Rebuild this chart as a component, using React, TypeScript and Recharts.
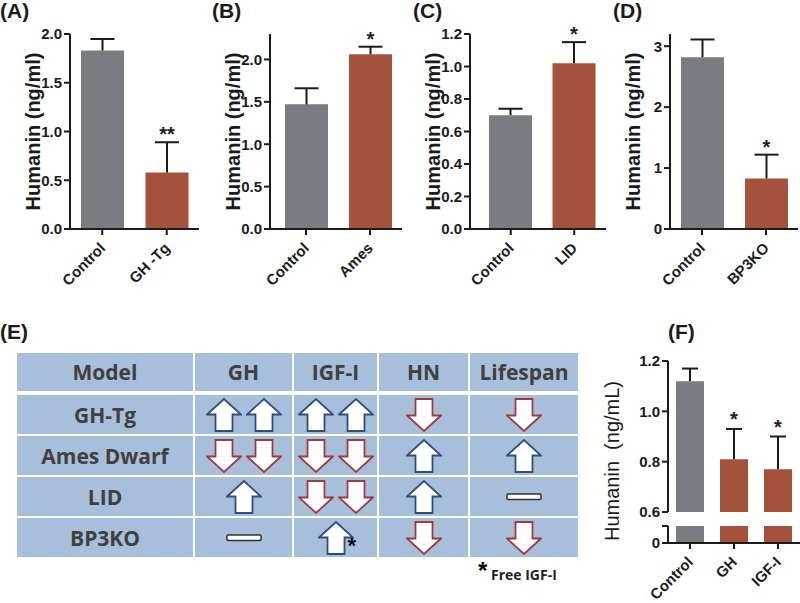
import React from 'react';
import { BarChart, Bar, XAxis, YAxis, Cell, LabelList } from 'recharts';

const GRAY = '#797c80';
const RUST = '#a5523c';
const INK = '#1b1b1b';
const SANS = '"Liberation Sans", Arial, sans-serif';
const TABLE_BG = '#a8bfdb';
const TABLE_TEXT = '#404040';
const BLUE = '#2d4e7e';
const RED = '#a03a3f';

// (A) GH transgenic
const groupsA = ['Control', 'GH -Tg'];
const humaninA = [1.83, 0.58];
const semA = [0.12, 0.31];
const starsA = ['', '**'];
const ticksA = [0, 0.5, 1, 1.5, 2];

// (B) Ames dwarf
const groupsB = ['Control', 'Ames'];
const humaninB = [1.47, 2.06];
const semB = [0.19, 0.09];
const starsB = ['', '*'];
const ticksB = [0, 0.5, 1, 1.5, 2];

// (C) LID
const groupsC = ['Control', 'LID'];
const humaninC = [0.7, 1.02];
const semC = [0.04, 0.13];
const starsC = ['', '*'];
const ticksC = [0, 0.2, 0.4, 0.6, 0.8, 1, 1.2];

// (D) BP3KO
const groupsD = ['Control', 'BP3KO'];
const humaninD = [2.82, 0.83];
const semD = [0.29, 0.39];
const starsD = ['', '*'];
const ticksD = [0, 1, 2, 3];

// (F) treatment
const groupsF = ['Control', 'GH', 'IGF-I'];
const humaninF = [1.12, 0.81, 0.77];
const semF = [0.05, 0.12, 0.13];
const starsF = ['', '*', '*'];
const ticksFTop = [0.6, 0.8, 1, 1.2];
const ticksFLow = [0, 0.05];

// (E) table
const tableHead = ['Model', 'GH', 'IGF-I', 'HN', 'Lifespan'];
const tableModels = ['GH-Tg', 'Ames Dwarf', 'LID', 'BP3KO'];
const tableGH = ['uu', 'dd', 'u', '-'];
const tableIGF = ['uu', 'dd', 'dd', 'u*'];
const tableHN = ['d', 'u', 'u', 'd'];
const tableLife = ['d', 'u', '-', 'd'];

const rowsOf = (names: string[], mean: number[], sem: number[], stars: string[]) =>
  names.map((name, i) => ({ name, mean: mean[i], sem: sem[i], star: stars[i], fill: i === 0 ? GRAY : RUST }));

const errShape = (cap: number) => (p: any) => {
  const cx = p.x + p.width / 2;
  return (
    <g>
      <line x1={cx} x2={cx} y1={p.y} y2={p.y + p.height} stroke={INK} strokeWidth={2} />
      <line x1={cx - cap} x2={cx + cap} y1={p.y} y2={p.y} stroke={INK} strokeWidth={2} />
    </g>
  );
};

const SlantTick = (p: any) => {
  const x = p.x + 4;
  const y = p.y + 12;
  return (
    <text x={x} y={y} transform={`rotate(-45 ${x} ${y})`} textAnchor="end" fontFamily={SANS} fontSize={15} fontWeight="bold" fill={INK}>
      {p.payload.value}
    </text>
  );
};

const axisLine = { stroke: INK, strokeWidth: 2 };
const tickFont = { fill: INK, fontSize: 15, fontWeight: 'bold', fontFamily: SANS };
const starStyle = { fontSize: 20, fontWeight: 'bold', fontFamily: SANS };

type PanelProps = {
  left: number;
  rows: any[];
  domain: [number, number];
  ticks: number[];
  digits: number;
  padLeft: number;
  plotWidth: number;
};

function Panel({ left, rows, domain, ticks, digits, padLeft, plotWidth }: PanelProps) {
  return (
    <div style={{ position: 'absolute', left, top: 0 }}>
      <BarChart width={70 + plotWidth} height={305} data={rows} margin={{ top: 34, right: 0, bottom: 0, left: 0 }} barSize={43}>
        <XAxis dataKey="name" height={76} interval={0} padding={{ left: padLeft, right: 0 }} axisLine={axisLine} tickLine={axisLine} tickSize={6} tick={<SlantTick />} />
        <YAxis
          width={70}
          domain={domain}
          ticks={ticks}
          interval={0}
          allowDataOverflow
          tickFormatter={(v: number) => v.toFixed(digits)}
          axisLine={axisLine}
          tickLine={axisLine}
          tickSize={6}
          tick={tickFont}
          label={{
            value: 'Humanin (ng/ml)',
            angle: -90,
            position: 'insideLeft',
            offset: 33,
            style: { textAnchor: 'middle', fontSize: 20, fontWeight: 'bold', fontFamily: SANS, fill: INK },
          }}
        />
        <Bar dataKey="mean" stackId="h" isAnimationActive={false}>
          {rows.map((r) => (
            <Cell key={r.name} fill={r.fill} />
          ))}
        </Bar>
        <Bar dataKey="sem" stackId="h" isAnimationActive={false} shape={errShape(12)}>
          <LabelList dataKey="star" position="top" offset={1} fill={INK} style={starStyle} />
        </Bar>
      </BarChart>
    </div>
  );
}

const Arrow = ({ up }: { up?: boolean }) => (
  <svg width={36} height={34} viewBox="0 0 36 34" style={{ display: 'block' }}>
    <polygon
      points="1,16.5 18,1 35,16.5 26.5,16.5 26.5,33 9.5,33 9.5,16.5"
      fill="#fff"
      stroke={up ? BLUE : RED}
      strokeWidth={1.8}
      transform={up ? undefined : 'rotate(180 18 17)'}
    />
  </svg>
);

const Dash = () => (
  <svg width={36} height={8} viewBox="0 0 36 8" style={{ display: 'block' }}>
    <rect x={1} y={1} width={34} height={5.5} rx={1} fill="#fff" stroke="#333" strokeWidth={1.5} />
  </svg>
);

function Marks({ code }: { code: string }) {
  const items = code.replace('*', '').split('');
  return (
    <div style={{ display: 'flex', gap: 4, alignItems: 'center', position: 'relative' }}>
      {items.map((c, i) => (c === 'u' ? <Arrow key={i} up /> : c === 'd' ? <Arrow key={i} /> : <Dash key={i} />))}
      {code.includes('*') && (
        <span style={{ position: 'absolute', left: 30, top: 14, fontFamily: SANS, fontWeight: 'bold', fontSize: 22, lineHeight: '22px', color: '#000' }}>*</span>
      )}
    </div>
  );
}

const cellStyle: React.CSSProperties = {
  background: TABLE_BG,
  display: 'flex',
  alignItems: 'center',
  justifyContent: 'center',
  fontFamily: '"Open Sans", sans-serif',
  fontWeight: 700,
  fontSize: 21,
  color: TABLE_TEXT,
};

const columns = '176px 97px 83px 89px 108px';

function Table() {
  return (
    <div style={{ position: 'absolute', left: 17, top: 353, width: 561 }}>
      <div style={{ display: 'grid', gridTemplateColumns: columns, gridTemplateRows: '38px', columnGap: 2 }}>
        {tableHead.map((h) => (
          <div key={h} style={cellStyle}>{h}</div>
        ))}
      </div>
      <div style={{ display: 'grid', gridTemplateColumns: columns, gridAutoRows: '39px', columnGap: 2, rowGap: 2, marginTop: 4 }}>
        {tableModels.map((m, i) => (
          <React.Fragment key={m}>
            <div style={cellStyle}>{m}</div>
            <div style={cellStyle}><Marks code={tableGH[i]} /></div>
            <div style={cellStyle}><Marks code={tableIGF[i]} /></div>
            <div style={cellStyle}><Marks code={tableHN[i]} /></div>
            <div style={cellStyle}><Marks code={tableLife[i]} /></div>
          </React.Fragment>
        ))}
      </div>
    </div>
  );
}

const letterStyle: React.CSSProperties = {
  position: 'absolute',
  fontFamily: SANS,
  fontWeight: 'bold',
  fontSize: 21,
  lineHeight: '21px',
  color: INK,
};

export default function App() {
  const rowsF = rowsOf(groupsF, humaninF, semF, starsF);
  return (
    <div style={{ position: 'absolute', left: 0, top: 0, width: 800, height: 603, background: '#fff', overflow: 'hidden' }}>
      <Panel left={0} rows={rowsOf(groupsA, humaninA, semA, starsA)} domain={[0, 2]} ticks={ticksA} digits={1} padLeft={0} plotWidth={129} />
      <Panel left={200} rows={rowsOf(groupsB, humaninB, semB, starsB)} domain={[0, 2.3]} ticks={ticksB} digits={1} padLeft={4} plotWidth={132} />
      <Panel left={400} rows={rowsOf(groupsC, humaninC, semC, starsC)} domain={[0, 1.2]} ticks={ticksC} digits={1} padLeft={9} plotWidth={136} />
      <Panel left={600} rows={rowsOf(groupsD, humaninD, semD, starsD)} domain={[0, 3.2]} ticks={ticksD} digits={0} padLeft={0} plotWidth={128} />

      <div style={{ position: 'absolute', left: 600, top: 340 }}>
        <BarChart width={200} height={184} data={rowsF} margin={{ top: 21, right: 0, bottom: 12, left: 0 }} barSize={28}>
          <XAxis dataKey="name" hide />
          <YAxis width={68} domain={[0.6, 1.2]} ticks={ticksFTop} interval={0} allowDataOverflow tickFormatter={(v: number) => v.toFixed(1)} axisLine={axisLine} tickLine={axisLine} tickSize={6} tick={tickFont} />
          <Bar dataKey="mean" stackId="h" isAnimationActive={false}>
            {rowsF.map((r) => (
              <Cell key={r.name} fill={r.fill} />
            ))}
          </Bar>
          <Bar dataKey="sem" stackId="h" isAnimationActive={false} shape={errShape(8)}>
            <LabelList dataKey="star" position="top" offset={3} fill={INK} style={starStyle} />
          </Bar>
        </BarChart>
      </div>
      <div style={{ position: 'absolute', left: 600, top: 516 }}>
        <BarChart width={200} height={87} data={rowsF} margin={{ top: 10, right: 0, bottom: 0, left: 0 }} barSize={28}>
          <XAxis dataKey="name" height={60} interval={0} axisLine={axisLine} tickLine={axisLine} tickSize={6} tick={<SlantTick />} />
          <YAxis width={68} domain={[0, 0.05]} ticks={ticksFLow} interval={0} allowDataOverflow tickFormatter={(v: number) => (v === 0 ? '0' : '')} axisLine={axisLine} tickLine={axisLine} tickSize={6} tick={tickFont} />
          <Bar dataKey="mean" isAnimationActive={false}>
            {rowsF.map((r) => (
              <Cell key={r.name} fill={r.fill} />
            ))}
          </Bar>
        </BarChart>
      </div>
      <div
        style={{
          position: 'absolute',
          left: 612,
          top: 461,
          transform: 'translate(-50%, -50%) rotate(-90deg)',
          whiteSpace: 'pre',
          fontFamily: SANS,
          fontSize: 20,
          lineHeight: '20px',
          color: INK,
        }}
      >
        {'Humanin  (ng/mL)'}
      </div>

      <Table />
      <div style={{ position: 'absolute', left: 478, top: 559, fontFamily: SANS, fontWeight: 'bold', fontSize: 24, lineHeight: '24px', color: '#000' }}>*</div>
      <div style={{ position: 'absolute', left: 491, top: 567, fontFamily: '"Open Sans", sans-serif', fontWeight: 700, fontSize: 14, lineHeight: '16px', color: '#222' }}>Free IGF-I</div>

      <div style={{ ...letterStyle, left: 0, top: 0 }}>(A)</div>
      <div style={{ ...letterStyle, left: 212, top: 0 }}>(B)</div>
      <div style={{ ...letterStyle, left: 413, top: 0 }}>(C)</div>
      <div style={{ ...letterStyle, left: 613, top: 0 }}>(D)</div>
      <div style={{ ...letterStyle, left: 0, top: 321 }}>(E)</div>
      <div style={{ ...letterStyle, left: 668, top: 321 }}>(F)</div>
    </div>
  );
}
